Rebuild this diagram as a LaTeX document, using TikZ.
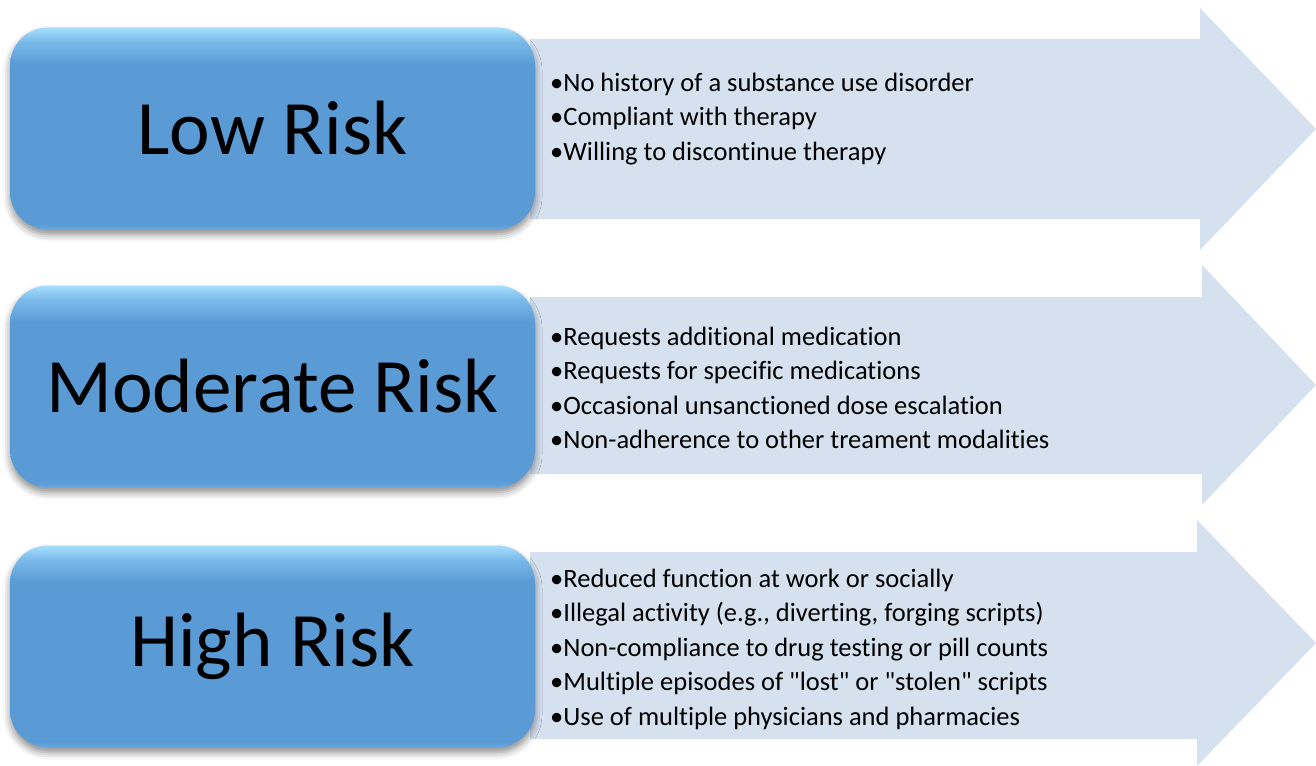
\documentclass[tikz,border=0pt]{standalone}
\usepackage{fontspec}
\setmainfont{Carlito}[Ligatures={NoCommon,TeXOff}]
\usetikzlibrary{shadows.blur}

\definecolor{arrowfill}{RGB}{214,225,240}
\definecolor{boxbase}{RGB}{91,155,213}
\definecolor{boxlow}{RGB}{104,168,226}
\definecolor{boxmid}{RGB}{122,186,234}
\definecolor{boxtop}{RGB}{166,222,253}

% glossy blue fill: flat body, bright band along the top edge
\pgfdeclareverticalshading{riskshade}{100bp}{%
  color(0bp)=(boxlow); color(25bp)=(boxlow); color(26.5bp)=(boxbase);
  color(66bp)=(boxbase); color(71.5bp)=(boxmid); color(75bp)=(boxtop);
  color(100bp)=(boxtop)}

\tikzset{
  riskbox/.style={shade, shading=riskshade, rounded corners=38pt,
    minimum width=525pt, minimum height=202pt, inner sep=0pt,
    font=\fontsize{77}{80}\selectfont,
    blur shadow={shadow xshift=0pt, shadow yshift=-5pt,
      shadow blur radius=7pt, shadow opacity=45}},
  risklist/.style={anchor=west, align=left, inner sep=0pt,
    font=\fontsize{26.5}{34.5}\selectfont},
  riskarrow/.style={fill=arrowfill}
}

\begin{document}
\begin{tikzpicture}[x=1pt, y=-1pt]
  \useasboundingbox (0,0) rectangle (1316,765);

  % background arrows
  \fill[riskarrow] (530,39) -- (1200,39) -- (1200,8) -- (1316,129)
    -- (1200,250) -- (1200,219) -- (530,219) -- cycle;
  \fill[riskarrow] (530,297) -- (1202,297) -- (1202,265) -- (1316,385)
    -- (1202,505) -- (1202,474) -- (530,474) -- cycle;
  \fill[riskarrow] (530,552) -- (1197,552) -- (1197,520) -- (1316,643)
    -- (1197,766) -- (1197,739) -- (530,739) -- cycle;

  % risk level boxes
  \node[riskbox] (low) at (272.5,128.5) {Low Risk};
  \node[riskbox] (moderate) at (272.5,386.5) {Moderate Risk};
  \node[riskbox] (high) at (272.5,646.5) {High Risk};

  % indicator lists
  \node[risklist] (lowlist) at (550,119)
    {•No history of a substance use disorder\\
     •Compliant with therapy\\
     •Willing to discontinue therapy};
  \node[risklist] (moderatelist) at (550,388)
    {•Requests additional medication\\
     •Requests for specific medications\\
     •Occasional unsanctioned dose escalation\\
     •Non-adherence to other treament modalities};
  \node[risklist] (highlist) at (550,649)
    {•Reduced function at work or socially\\
     •Illegal activity (e.g., diverting, forging scripts)\\
     •Non-compliance to drug testing or pill counts\\
     •Multiple episodes of "lost" or "stolen" scripts\\
     •Use of multiple physicians and pharmacies};
\end{tikzpicture}
\end{document}
